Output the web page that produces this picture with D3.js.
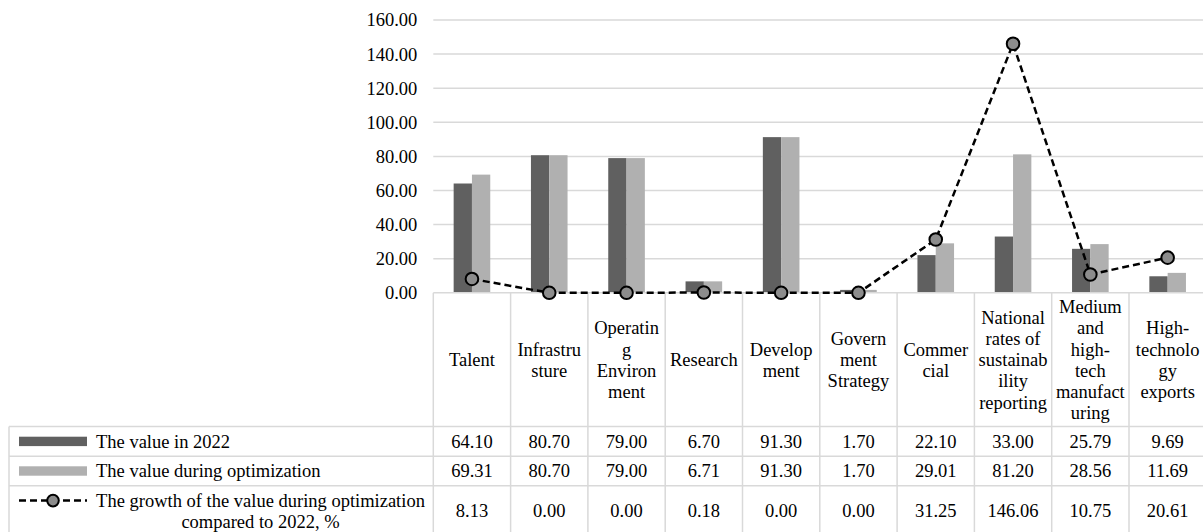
<!DOCTYPE html>
<html>
<head>
<meta charset="utf-8">
<script src="https://cdn.jsdelivr.net/npm/d3@7"></script>
<style>
  html, body { margin: 0; padding: 0; background: #fff; }
</style>
</head>
<body>
<svg id="chart" width="1203" height="532"></svg>
<script>
// ---- data ----
const categories = [
  "Talent", "Infrastrusture", "Operating Environment", "Research", "Development",
  "Government Strategy", "Commercial", "National rates of sustainability reporting",
  "Medium and high-tech manufacturing", "High-technology exports"
];
const categoryLabelLines = [
  ["Talent"],
  ["Infrastru", "sture"],
  ["Operatin", "g", "Environ", "ment"],
  ["Research"],
  ["Develop", "ment"],
  ["Govern", "ment", "Strategy"],
  ["Commer", "cial"],
  ["National", "rates of", "sustainab", "ility", "reporting"],
  ["Medium", "and", "high-", "tech", "manufact", "uring"],
  ["High-", "technolo", "gy", "exports"]
];
const value2022 = [64.10, 80.70, 79.00, 6.70, 91.30, 1.70, 22.10, 33.00, 25.79, 9.69];
const valueOptimized = [69.31, 80.70, 79.00, 6.71, 91.30, 1.70, 29.01, 81.20, 28.56, 11.69];
const growthPercent = [8.13, 0.00, 0.00, 0.18, 0.00, 0.00, 31.25, 146.06, 10.75, 20.61];
const yTicks = [0, 20, 40, 60, 80, 100, 120, 140, 160];
const seriesLabelLines = [
  ["The value in 2022"],
  ["The value during optimization"],
  ["The growth of the value during optimization", "compared to 2022, %"]
];

// ---- layout ----
const plotLeft = 433.3, step = 77.3;
const plotRight = plotLeft + step * categories.length;
const plotTop = 20, plotBottom = 292.8;
const tableLeft = 9;
const rowLines = [plotBottom, 426.6, 456.2, 485.8, 536];
const fontSize = 18.5;
const fontFamily = "'Liberation Serif', 'Times New Roman', serif";
const gridColor = "#d9d9d9";
const darkFill = "#606060", lightFill = "#b0b0b0", markerFill = "#8c8c8c";

const svg = d3.select("#chart");

const x = d3.scaleBand().domain(categories).range([plotLeft, plotRight]).padding(0);
const y = d3.scaleLinear().domain([0, 160]).range([plotBottom, plotTop]);
const barW = 18.3;
const inner = d3.scaleBand().domain(["v2022", "vOpt"]).range([-barW, barW]).padding(0);
const cx = c => x(c) + x.bandwidth() / 2;

const textGroup = () => svg.append("g")
  .style("font-family", fontFamily).style("font-size", fontSize + "px").attr("fill", "#000");

// gridlines
svg.append("g")
  .selectAll("line")
  .data(yTicks.filter(t => t > 0))
  .join("line")
  .attr("x1", plotLeft).attr("x2", plotRight)
  .attr("y1", d => y(d)).attr("y2", d => y(d))
  .attr("stroke", gridColor).attr("stroke-width", 1.5);

// y axis labels
const yAxis = svg.append("g")
  .attr("transform", `translate(${plotLeft},0)`)
  .call(d3.axisLeft(y).tickValues(yTicks).tickFormat(d3.format(".2f")).tickSize(0).tickPadding(16));
yAxis.select(".domain").remove();
yAxis.selectAll("text")
  .style("font-family", fontFamily).style("font-size", fontSize + "px").attr("fill", "#000");

// bars
const bars = svg.append("g");
bars.selectAll("rect.d")
  .data(categories.map((c, i) => ({ c, v: value2022[i] })))
  .join("rect").attr("class", "d")
  .attr("x", d => cx(d.c) + inner("v2022"))
  .attr("width", inner.bandwidth())
  .attr("y", d => y(d.v))
  .attr("height", d => y(0) - y(d.v))
  .attr("fill", darkFill);
bars.selectAll("rect.l")
  .data(categories.map((c, i) => ({ c, v: valueOptimized[i] })))
  .join("rect").attr("class", "l")
  .attr("x", d => cx(d.c) + inner("vOpt"))
  .attr("width", inner.bandwidth())
  .attr("y", d => y(d.v))
  .attr("height", d => y(0) - y(d.v))
  .attr("fill", lightFill);

// data table grid
const table = svg.append("g").attr("stroke", gridColor).attr("stroke-width", 1.5);
rowLines.forEach((ry, i) => {
  table.append("line")
    .attr("x1", i === 0 ? plotLeft : tableLeft).attr("x2", plotRight)
    .attr("y1", ry).attr("y2", ry);
});
d3.range(categories.length + 1).forEach(i => {
  const vx = plotLeft + i * step;
  table.append("line").attr("x1", vx).attr("x2", vx).attr("y1", plotBottom).attr("y2", rowLines[4]);
});
table.append("line").attr("x1", tableLeft).attr("x2", tableLeft).attr("y1", rowLines[1]).attr("y2", rowLines[4]);

// category headers
const lineH = 21.2;
const headerMid = (rowLines[0] + rowLines[1]) / 2;
const headers = textGroup().attr("text-anchor", "middle");
categories.forEach((c, i) => {
  const lines = categoryLabelLines[i];
  const top = headerMid - (lines.length - 1) * lineH / 2;
  const t = headers.append("text");
  lines.forEach((ln, k) => {
    t.append("tspan").attr("x", cx(c)).attr("y", top + k * lineH).attr("dy", "0.35em").text(ln);
  });
});

// table values
const fmt = d3.format(".2f");
const valueRows = [value2022, valueOptimized, growthPercent];
const cells = textGroup().attr("text-anchor", "middle");
valueRows.forEach((row, r) => {
  const mid = (rowLines[r + 1] + rowLines[r + 2]) / 2;
  cells.selectAll(null)
    .data(categories.map((c, i) => ({ c, v: row[i] })))
    .join("text")
    .attr("x", d => cx(d.c))
    .attr("y", mid).attr("dy", "0.35em")
    .text(d => fmt(d.v));
});

// legend keys and series names
const leg = textGroup();
const keyX0 = 19, keyX1 = 87, textX = 96;
[darkFill, lightFill].forEach((col, r) => {
  const mid = (rowLines[r + 1] + rowLines[r + 2]) / 2;
  leg.append("rect").attr("x", keyX0).attr("y", mid - 4.7).attr("width", keyX1 - keyX0).attr("height", 9.4).attr("fill", col);
  leg.append("text").attr("x", textX).attr("y", mid).attr("dy", "0.35em").text(seriesLabelLines[r][0]);
});
{
  const mid = (rowLines[3] + rowLines[4]) / 2;
  const l1 = mid - 10.3;
  leg.append("line").attr("x1", keyX0).attr("x2", keyX1).attr("y1", l1).attr("y2", l1)
    .attr("stroke", "#000").attr("stroke-width", 2.5).attr("stroke-dasharray", "7,4");
  leg.append("circle").attr("cx", (keyX0 + keyX1) / 2).attr("cy", l1).attr("r", 5.8)
    .attr("fill", markerFill).attr("stroke", "#000").attr("stroke-width", 2);
  const t = leg.append("text").attr("text-anchor", "middle");
  seriesLabelLines[2].forEach((ln, k) => {
    t.append("tspan").attr("x", 260.5).attr("y", l1 + k * 20.6).attr("dy", "0.35em").text(ln);
  });
}

// growth line with markers
const line = d3.line().x(d => cx(d.c)).y(d => y(d.v));
const growthPts = categories.map((c, i) => ({ c, v: growthPercent[i] }));
svg.append("path").datum(growthPts)
  .attr("d", line).attr("fill", "none")
  .attr("stroke", "#000").attr("stroke-width", 2.5).attr("stroke-dasharray", "7,4");
svg.append("g").selectAll("circle")
  .data(growthPts).join("circle")
  .attr("cx", d => cx(d.c)).attr("cy", d => y(d.v)).attr("r", 6.3)
  .attr("fill", markerFill).attr("stroke", "#000").attr("stroke-width", 2);
</script>
</body>
</html>
